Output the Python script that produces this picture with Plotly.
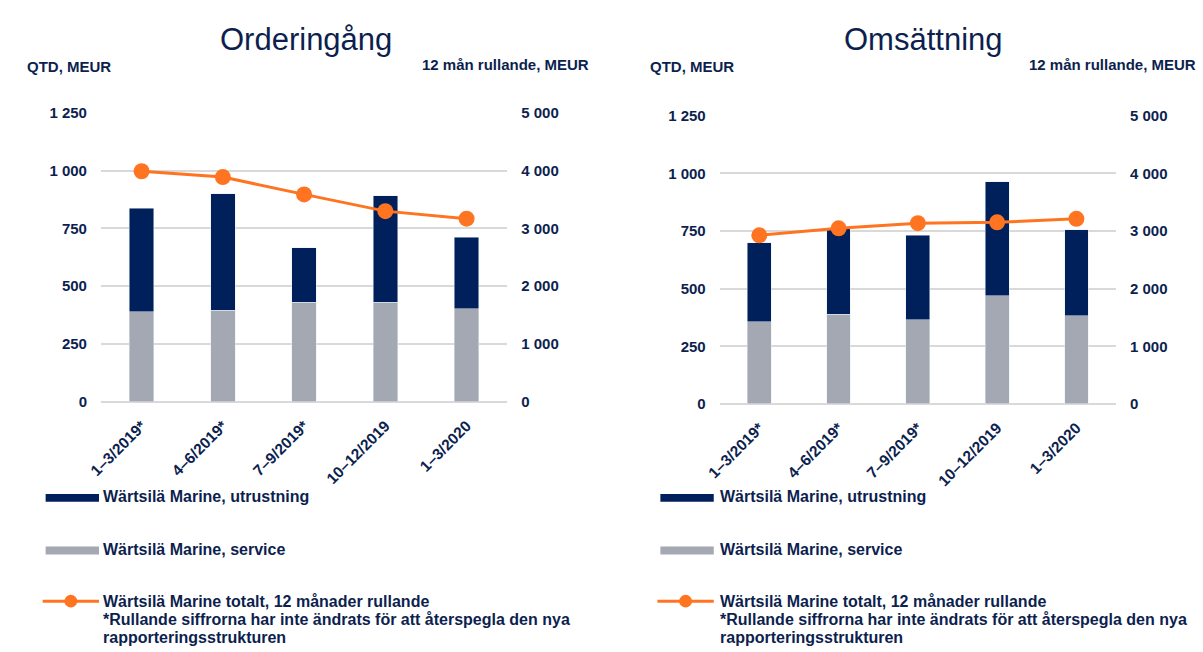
import plotly.graph_objects as go

# ---------------- data ----------------
categories = ["1–3/2019*", "4–6/2019*", "7–9/2019*", "10–12/2019", "1–3/2020"]

order_service = [390, 397, 431, 431, 402]
order_equipment = [448, 503, 235, 461, 311]
order_rolling = [3990, 3890, 3590, 3300, 3170]

sales_service = [356, 388, 364, 468, 382]
sales_equipment = [343, 372, 367, 495, 374]
sales_rolling = [2925, 3045, 3135, 3150, 3210]

left_tickvals = [0, 250, 500, 750, 1000, 1250]
left_ticktext = ["0", "250", "500", "750", "1 000", "1 250"]
right_tickvals = [0, 1000, 2000, 3000, 4000, 5000]
right_ticktext = ["0", "1 000", "2 000", "3 000", "4 000", "5 000"]

titles = ["Orderingång", "Omsättning"]
left_unit = "QTD, MEUR"
right_unit = "12 mån rullande, MEUR"
legend_labels = ["Wärtsilä Marine, utrustning", "Wärtsilä Marine, service",
                 "Wärtsilä Marine totalt, 12 månader rullande"]
footnote = ["*Rullande siffrorna har inte ändrats för att återspegla den nya",
            "rapporteringsstrukturen"]

# ---------------- styles ----------------
W, H = 1203, 652
NAVY = "#00205b"
GREY = "#a4a8b2"
ORANGE = "#ff7420"
TEXT = "#0d1f4f"
GRID = "#d9d9d9"
FONT = "Liberation Sans, Arial, sans-serif"


def px(x):
    return x / W


def py(y):
    return 1 - y / H


fig = go.Figure()

panels = [
    dict(x="x", y="y", y2="y2", service=order_service, equip=order_equipment, roll=order_rolling),
    dict(x="x2", y="y3", y2="y4", service=sales_service, equip=sales_equipment, roll=sales_rolling),
]

for p in panels:
    fig.add_trace(go.Bar(x=categories, y=p["service"], marker_color=GREY, xaxis=p["x"], yaxis=p["y"],
                         name=legend_labels[1], showlegend=False))
    fig.add_trace(go.Bar(x=categories, y=p["equip"], marker_color=NAVY, xaxis=p["x"], yaxis=p["y"],
                         name=legend_labels[0], showlegend=False))
    fig.add_trace(go.Scatter(x=categories, y=p["roll"], mode="lines+markers", xaxis=p["x"], yaxis=p["y2"],
                             line=dict(color=ORANGE, width=3), marker=dict(color=ORANGE, size=16),
                             name=legend_labels[2], showlegend=False))

tickfont = dict(family=FONT, size=15, color=TEXT, weight="bold")
catfont = dict(family=FONT, size=15.5, color=TEXT, weight="bold")

# geometry (pixels)
geo = [
    dict(x0=88, x1=499, top=106.7, bottom=403.3),
    dict(x0=714, x1=1115, top=109.5, bottom=405.5),
]

ax_names = [("xaxis", "yaxis", "yaxis2", "x", "y"), ("xaxis2", "yaxis3", "yaxis4", "x2", "y3")]
layout_axes = {}
for g, (xa, ya, ya2, xid, yid) in zip(geo, ax_names):
    layout_axes[xa] = dict(domain=[px(g["x0"]), px(g["x1"])], anchor=yid, type="category",
                           tickangle=-45, tickfont=catfont, showgrid=False, showline=False,
                           ticks="outside", ticklen=8, tickcolor="rgba(0,0,0,0)", zeroline=False)
    layout_axes[ya] = dict(domain=[py(g["bottom"]), py(g["top"])], anchor=xid, range=[0, 1250],
                           tickvals=left_tickvals, ticktext=left_ticktext, tickfont=tickfont,
                           showgrid=True, gridcolor=GRID, gridwidth=2, zeroline=True,
                           zerolinecolor=GRID, zerolinewidth=2, showline=False,
                           ticks="outside", ticklen=10, tickcolor="rgba(0,0,0,0)")
    layout_axes[ya2] = dict(overlaying=yid, anchor=xid, side="right", range=[0, 5000],
                            tickvals=right_tickvals, ticktext=right_ticktext, tickfont=tickfont,
                            showgrid=False, zeroline=False, showline=False,
                            ticks="outside", ticklen=10, tickcolor="rgba(0,0,0,0)")

annotations = []
shapes = []
title_centers = [295, 920]
unit_pos = [(11, 584), (641, 1198)]
legend_x = [(32, 86, 88), (654, 708, 712)]
for i in range(2):
    annotations.append(dict(text=titles[i], x=px(title_centers[i]), y=py(31), xref="paper", yref="paper",
                            xanchor="center", yanchor="middle", showarrow=False,
                            font=dict(family=FONT, size=31, color=TEXT)))
    annotations.append(dict(text=left_unit, x=px(unit_pos[i][0]), y=py(59), xref="paper", yref="paper",
                            xanchor="left", yanchor="middle", showarrow=False,
                            font=dict(family=FONT, size=15, color=TEXT, weight="bold")))
    annotations.append(dict(text=right_unit, x=px(unit_pos[i][1]), y=py(57), xref="paper", yref="paper",
                            xanchor="right", yanchor="middle", showarrow=False,
                            font=dict(family=FONT, size=15, color=TEXT, weight="bold")))
    sx0, sx1, tx = legend_x[i]
    # swatches
    shapes.append(dict(type="rect", xref="paper", yref="paper", x0=px(sx0), x1=px(sx1),
                       y0=py(506), y1=py(498), fillcolor=NAVY, line=dict(width=0)))
    shapes.append(dict(type="rect", xref="paper", yref="paper", x0=px(sx0), x1=px(sx1),
                       y0=py(560), y1=py(552), fillcolor=GREY, line=dict(width=0)))
    shapes.append(dict(type="line", xref="paper", yref="paper", x0=px(sx0 - 3), x1=px(sx1),
                       y0=py(608), y1=py(608), line=dict(color=ORANGE, width=3)))
    cx = (sx0 - 3 + sx1) / 2
    shapes.append(dict(type="circle", xref="paper", yref="paper", x0=px(cx - 6.5), x1=px(cx + 6.5),
                       y0=py(614.5), y1=py(601.5), fillcolor=ORANGE, line=dict(width=0)))
    legfont = dict(family=FONT, size=16, color=TEXT, weight="bold")
    for txt, yy in [(legend_labels[0], 501), (legend_labels[1], 555), (legend_labels[2], 608),
                    (footnote[0], 627), (footnote[1], 645)]:
        annotations.append(dict(text=txt, x=px(tx), y=py(yy), xref="paper", yref="paper",
                                xanchor="left", yanchor="middle", showarrow=False, font=legfont))

fig.update_layout(
    width=W, height=H, margin=dict(l=0, r=0, t=0, b=0),
    paper_bgcolor="white", plot_bgcolor="white",
    barmode="stack", bargap=0.7, showlegend=False,
    annotations=annotations, shapes=shapes,
    **layout_axes,
)

fig.write_html("out.html", config={"displayModeBar": False},
               post_script="document.body.style.margin='0';document.body.style.overflow='hidden';")
